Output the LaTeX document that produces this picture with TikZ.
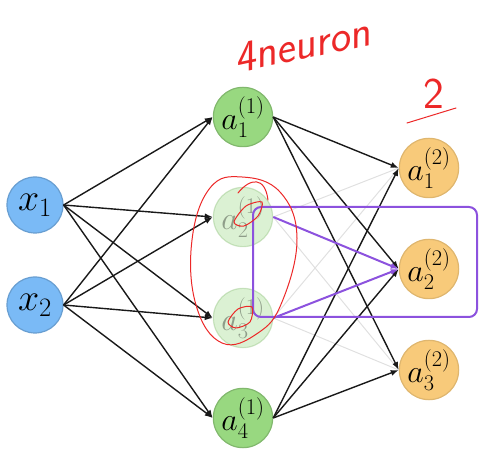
\documentclass[tikz,border=0pt]{standalone}
\usepackage{fix-cm}
\usepackage{amsmath}
\usetikzlibrary{arrows.meta}
\definecolor{inblue}{RGB}{122,186,246}
\definecolor{hidgreen}{RGB}{152,216,128}
\definecolor{outorange}{RGB}{248,202,122}
\definecolor{boxpurple}{RGB}{140,82,222}
\definecolor{penred}{RGB}{236,40,40}
\tikzset{
  neuron/.style={circle,minimum size=56pt,inner sep=0pt,line width=1.2pt},
  inneuron/.style={neuron,fill=inblue,draw=inblue!85!black,font=\fontsize{38}{40}\selectfont},
  hidneuron/.style={neuron,fill=hidgreen,draw=hidgreen!85!black,font=\fontsize{32}{34}\selectfont},
  dimneuron/.style={hidneuron,fill opacity=0.35,draw opacity=0.35,text opacity=0.35},
  outneuron/.style={neuron,fill=outorange,draw=outorange!90!black,font=\fontsize{32}{34}\selectfont},
  wire/.style={->,line width=1.4pt,black!90},
  dimwire/.style={line width=1pt,black!12},
  pickwire/.style={->,line width=2pt,boxpurple},
  pen/.style={penred,line width=1pt,line cap=round,line join=round},
}
\begin{document}
\begin{tikzpicture}[>={Latex[length=8pt,width=6pt]},x=1pt,y=-1pt]
  \useasboundingbox (0,0) rectangle (480,449);
  % input layer
  \node[inneuron] (x1) at (35,205) {$x_1$};
  \node[inneuron] (x2) at (35,305) {$x_2$};
  % hidden layer
  \node[hidneuron] (h1) at (243,117) {$a^{(1)}_1$};
  \node[dimneuron] (h2) at (243,217) {$a^{(1)}_2$};
  \node[dimneuron] (h3) at (243,318) {$a^{(1)}_3$};
  \node[hidneuron] (h4) at (243,418) {$a^{(1)}_4$};
  % output layer
  \node[outneuron] (o1) at (429,168) {$a^{(2)}_1$};
  \node[outneuron] (o2) at (429,269) {$a^{(2)}_2$};
  \node[outneuron] (o3) at (429,370) {$a^{(2)}_3$};
  % weights
  \foreach \i in {1,2}
    \foreach \j in {1,...,4}
      \draw[wire] (x\i.east) -- (h\j.west);
  \foreach \j in {2,3}
    \foreach \k in {1,3}
      \draw[dimwire] (h\j.east) -- (o\k.west);
  \foreach \j in {1,4}
    \foreach \k in {1,2,3}
      \draw[wire] (h\j.east) -- (o\k.west);
  % selected unit
  \draw[boxpurple,line width=2pt,rounded corners=8pt] (253,207) rectangle (477,317);
  \draw[pickwire] (h2.east) -- (o2.west);
  \draw[pickwire] (h3.east) -- (o2.west);
  % handwritten notes
  \node[penred,font=\sffamily\itshape\fontsize{44}{46}\selectfont,rotate=12] (note4) at (302,45) {4neuron};
  \node[penred,font=\sffamily\fontsize{44}{46}\selectfont] (note2) at (434,94) {2};
  \draw[pen] (407,123) -- (456,108);
  \draw[pen] plot[smooth cycle,tension=0.7] coordinates
    {(242,177) (210,188) (192,240) (196,305) (222,343) (258,333) (282,302) (297,238) (280,192)};
  \draw[pen] (238,193) .. controls (250,178) and (265,176) .. (268,200);
  \draw[pen] plot[smooth cycle] coordinates {(234,222) (246,206) (262,202) (258,216) (244,226)};
  \draw[pen] plot[smooth cycle] coordinates {(228,322) (238,309) (252,307) (250,322) (236,328)};
\end{tikzpicture}
\end{document}
